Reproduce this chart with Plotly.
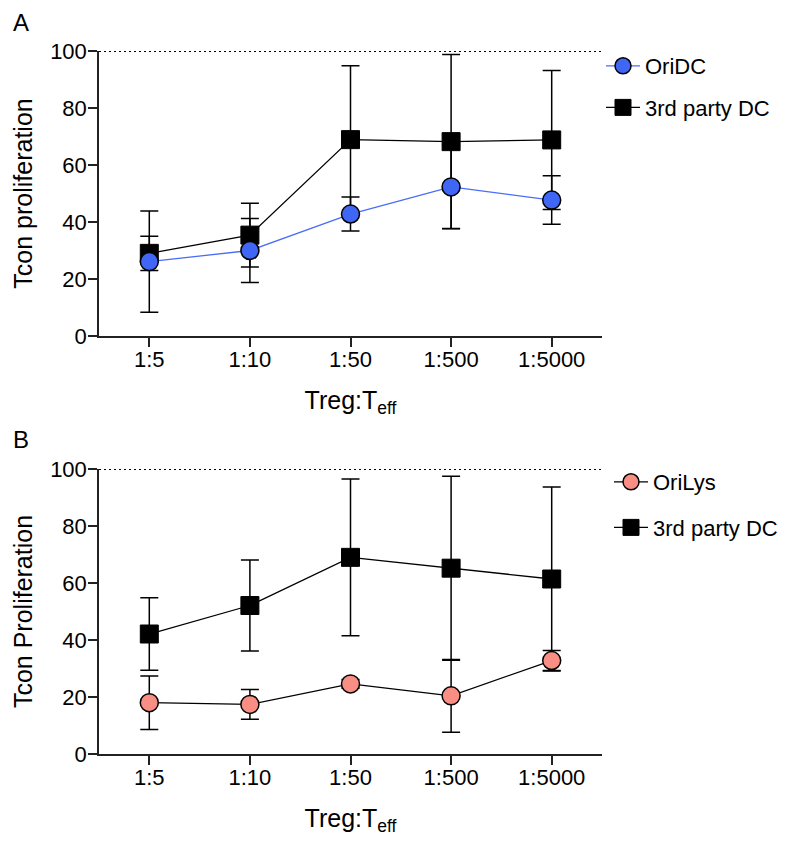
import plotly.graph_objects as go

cats = ["1:5", "1:10", "1:50", "1:500", "1:5000"]

A_ori_mean = [26.1, 30.0, 42.8, 52.3, 47.7]
A_ori_err = [17.8, 11.2, 6.0, 14.6, 8.5]
A_3rd_mean = [29.0, 35.4, 68.9, 68.2, 68.8]
A_3rd_err = [6.0, 11.2, 25.9, 30.6, 24.4]

B_ori_mean = [18.0, 17.4, 24.6, 20.4, 32.8]
B_ori_err = [9.4, 5.2, 1.5, 12.8, 3.5]
B_3rd_mean = [42.1, 52.1, 69.0, 65.2, 61.4]
B_3rd_err = [12.7, 16.0, 27.5, 32.3, 32.3]

yticks = [0, 20, 40, 60, 80, 100]

FONT = "Liberation Sans, Arial, sans-serif"
W, H = 790, 847

fig = go.Figure()

def err(arr):
    return dict(type="data", array=arr, visible=True, color="black", thickness=1.5, width=9)

# Panel A
fig.add_trace(go.Scatter(x=cats, y=A_3rd_mean, error_y=err(A_3rd_err), mode="lines+markers",
                         name="3rd party DC", line=dict(color="black", width=1.3),
                         marker=dict(symbol="square", size=18, color="black", line=dict(color="black", width=1)),
                         xaxis="x", yaxis="y", legend="legend", legendgroup="a2", legendrank=2))
fig.add_trace(go.Scatter(x=cats, y=A_ori_mean, error_y=err(A_ori_err), mode="lines+markers",
                         name="OriDC", line=dict(color="#4a6cf7", width=1.3),
                         marker=dict(symbol="circle", size=18, color="#3f66f5", line=dict(color="black", width=1.5)),
                         xaxis="x", yaxis="y", legend="legend", legendgroup="a1", legendrank=1))
# Panel B
fig.add_trace(go.Scatter(x=cats, y=B_3rd_mean, error_y=err(B_3rd_err), mode="lines+markers",
                         name="3rd party DC", line=dict(color="black", width=1.3),
                         marker=dict(symbol="square", size=18, color="black", line=dict(color="black", width=1)),
                         xaxis="x2", yaxis="y2", legend="legend2", legendgroup="b2", legendrank=2))
fig.add_trace(go.Scatter(x=cats, y=B_ori_mean, error_y=err(B_ori_err), mode="lines+markers",
                         name="OriLys", line=dict(color="black", width=1.3),
                         marker=dict(symbol="circle", size=18, color="#f98e84", line=dict(color="black", width=1.5)),
                         xaxis="x2", yaxis="y2", legend="legend2", legendgroup="b1", legendrank=1))

xdom = [99 / W, 602 / W]
ydomA = [1 - 336 / H, 1 - 51 / H]
ydomB = [1 - 754 / H, 1 - 469 / H]

axis_common = dict(showline=True, linecolor="#222", linewidth=1.5, ticks="outside", ticklen=9,
                   tickwidth=1.5, tickcolor="#222", showgrid=False, zeroline=False, automargin=False,
                   tickfont=dict(family=FONT, size=22, color="black"))

xt = dict(text="Treg:T<sub>eff</sub>", font=dict(family=FONT, size=25, color="black"), standoff=20)

leg_common = dict(xanchor="left", yanchor="top", bgcolor="rgba(0,0,0,0)", traceorder="grouped",
                  font=dict(family=FONT, size=22, color="black"), itemwidth=34)

fig.update_layout(
    width=W, height=H,
    margin=dict(l=0, r=0, t=0, b=0, autoexpand=False),
    paper_bgcolor="white", plot_bgcolor="white",
    font=dict(family=FONT, color="black"),
    xaxis=dict(domain=xdom, anchor="y", type="category", range=[-0.5, 4.5], title=xt,
               ticklabelstandoff=-6, **axis_common),
    yaxis=dict(domain=ydomA, anchor="x", range=[0, 100], tickvals=yticks, ticklabelstandoff=-3,
               title=dict(text="Tcon proliferation", font=dict(family=FONT, size=25, color="black"), standoff=10),
               **axis_common),
    xaxis2=dict(domain=xdom, anchor="y2", type="category", range=[-0.5, 4.5], title=xt,
                ticklabelstandoff=-6, **axis_common),
    yaxis2=dict(domain=ydomB, anchor="x2", range=[0, 100], tickvals=yticks, ticklabelstandoff=-3,
                title=dict(text="Tcon Proliferation", font=dict(family=FONT, size=25, color="black"), standoff=10),
                **axis_common),
    legend=dict(x=601 / W, y=1 - 45 / H, tracegroupgap=10, **leg_common),
    legend2=dict(x=609 / W, y=1 - 461 / H, tracegroupgap=14, **leg_common),
    showlegend=True,
)

# dotted reference line at 100
for xr, yr in [("x domain", "y"), ("x2 domain", "y2")]:
    fig.add_shape(type="line", xref=xr, yref=yr, x0=0, x1=1, y0=100, y1=100,
                  line=dict(color="black", width=2.2, dash="2px,3px"), layer="below")

fig.add_annotation(text="A", x=11 / W, y=1 - 22 / H, xref="paper", yref="paper", showarrow=False,
                   xanchor="left", yanchor="middle", font=dict(family=FONT, size=24, color="black"))
fig.add_annotation(text="B", x=11 / W, y=1 - 440 / H, xref="paper", yref="paper", showarrow=False,
                   xanchor="left", yanchor="middle", font=dict(family=FONT, size=24, color="black"))

fig.write_html("out.html")
